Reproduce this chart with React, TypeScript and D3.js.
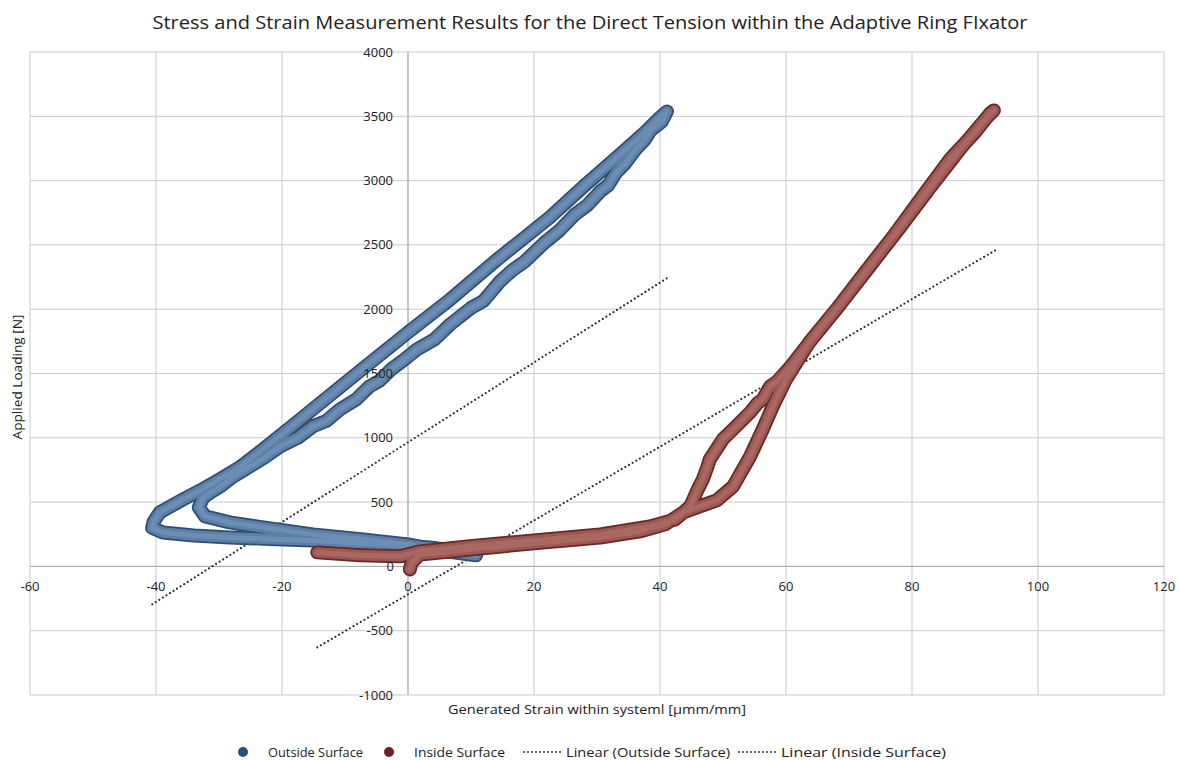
import * as d3 from 'd3';

// axis ticks
const xTicks = [-60, -40, -20, 0, 20, 40, 60, 80, 100, 120];
const yTicks = [-1000, -500, 0, 500, 1000, 1500, 2000, 2500, 3000, 3500, 4000];

// Outside Surface: traced along the loop (strain, load)
const outsideSurface: [number, number][] = [
  [10.6, 93], [7.0, 125], [3.5, 148], [-2.0, 165], [-7.1, 179], [-15.1, 202], [-22.0, 214],
  [-28.3, 225], [-34.0, 240], [-38.9, 264], [-40.6, 300], [-40.4, 345], [-39.4, 420],
  [-35.7, 521], [-33.0, 590], [-31.0, 645], [-26.7, 770], [-23.0, 910], [-17.1, 1143],
  [-8.1, 1501], [0.0, 1820], [6.7, 2076], [14.0, 2380], [22.5, 2714], [28.0, 2960],
  [33.7, 3204], [37.5, 3370], [40.0, 3491], [41.1, 3538],
  // unloading branch
  [40.3, 3460], [38.5, 3390], [37.6, 3320], [36.0, 3235], [34.4, 3130], [33.0, 3060],
  [31.8, 2965], [30.5, 2916], [28.5, 2810], [26.5, 2737], [24.0, 2610], [21.7, 2519],
  [18.5, 2370], [16.5, 2300], [14.6, 2216], [12.0, 2065], [10.0, 2010], [6.7, 1882],
  [4.2, 1765], [1.5, 1690], [-0.8, 1600], [-2.6, 1535], [-4.6, 1440], [-6.1, 1400],
  [-8.2, 1300], [-10.8, 1221], [-13.0, 1130], [-15.1, 1089], [-17.5, 1000], [-20.3, 933],
  [-23.0, 840], [-25.9, 754], [-28.0, 690], [-29.8, 622], [-31.5, 570], [-32.5, 537],
  [-33.2, 459], [-32.2, 389], [-28.3, 342], [-23.0, 303], [-15.1, 249], [-7.1, 210],
  [0.0, 171], [5.1, 124], [10.8, 86],
];

// Inside Surface
const insideSurface: [number, number][] = [
  [0.3, -23], [0.6, 31], [1.9, 93], [9.8, 132], [20.0, 179], [30.5, 225], [36.8, 272],
  [40.8, 327], [43.7, 420], [46.3, 467], [49.0, 513], [51.6, 622], [54.3, 855],
  [56.3, 1065], [57.9, 1244], [60.0, 1454], [63.8, 1750], [68.1, 2006], [72.5, 2286],
  [77.0, 2566], [81.3, 2854], [86.0, 3165], [90.0, 3375], [92.4, 3523], [93.0, 3546],
  // unloading branch
  [91.6, 3476], [87.6, 3243], [82.9, 2947], [78.1, 2636], [73.3, 2333], [68.6, 2037],
  [64.1, 1765], [60.6, 1547], [58.6, 1439], [57.5, 1400], [56.3, 1299], [55.5, 1270],
  [54.3, 1198], [52.5, 1110], [51.1, 1042], [50.0, 990], [47.9, 832], [47.5, 770],
  [46.8, 677], [46.0, 600], [44.8, 467], [42.4, 365], [38.4, 311], [30.5, 249],
  [20.0, 202], [9.8, 156], [1.9, 117], [-1.3, 78], [-7.6, 86], [-14.4, 109],
];

// linear trendlines: slope, intercept, x extent
const trendOutside = { slope: 31.04, intercept: 965, from: -40.6, to: 41.1 };
const trendInside = { slope: 28.69, intercept: -217, from: -14.4, to: 93.2 };

const legendItems = [
  { label: 'Outside Surface', kind: 'dot', color: '#2d4f7a', x: 243, w: 95 },
  { label: 'Inside Surface', kind: 'dot', color: '#6f1f1f', x: 389, w: 91 },
  { label: 'Linear (Outside Surface)', kind: 'line', color: '#333', x: 524, w: 164 },
  { label: 'Linear (Inside Surface)', kind: 'line', color: '#333', x: 739, w: 165 },
];

const W = 1180;
const H = 760;
const FONT = "'Open Sans', 'Noto Sans', sans-serif";

export default function App() {
  const x = d3.scaleLinear().domain([-60, 120]).range([30, 1164]);
  const y = d3.scaleLinear().domain([-1000, 4000]).range([695, 52]);
  const line = d3.line<[number, number]>().x(d => x(d[0])).y(d => y(d[1]));

  const trendPath = (t: typeof trendOutside) =>
    line([
      [t.from, t.slope * t.from + t.intercept],
      [t.to, t.slope * t.to + t.intercept],
    ]) as string;

  // each series is a dense run of markers: dark rim, lighter body
  const band = (data: [number, number][], edge: string, body: string, hi: string) => {
    const d = line(data) as string;
    return (
      <g fill="none" strokeLinecap="round" strokeLinejoin="round">
        <path d={d} stroke={edge} strokeWidth={14} />
        <path d={d} stroke={body} strokeWidth={10.5} />
        <path d={d} stroke={hi} strokeWidth={5} opacity={0.5} />
      </g>
    );
  };

  return (
    <svg
      width={W}
      height={H}
      style={{ position: 'absolute', left: 0, top: 0, background: '#fff', fontFamily: FONT }}
    >
      <rect width={W} height={H} fill="#fff" />
      <text x={590} y={29} textAnchor="middle" fontSize={19} fill="#222" textLength={875} lengthAdjust="spacingAndGlyphs">
        Stress and Strain Measurement Results for the Direct Tension within the Adaptive Ring FIxator
      </text>

      {/* grid */}
      <g stroke="#c9c9c9" strokeWidth={1}>
        {xTicks.map(t => (
          <line key={'gx' + t} x1={x(t)} x2={x(t)} y1={y(4000)} y2={y(-1000)} />
        ))}
        {yTicks.map(t => (
          <line key={'gy' + t} x1={x(-60)} x2={x(120)} y1={y(t)} y2={y(t)} />
        ))}
      </g>
      <line x1={x(0)} x2={x(0)} y1={y(4000)} y2={y(-1000)} stroke="#a9a9a9" />
      <line x1={x(-60)} x2={x(120)} y1={y(0)} y2={y(0)} stroke="#a9a9a9" />

      {/* trendlines */}
      <g fill="none" stroke="#2b2b2b" strokeWidth={2.2} strokeLinecap="round" strokeDasharray="0 4.2">
        <path d={trendPath(trendOutside)} />
        <path d={trendPath(trendInside)} />
      </g>

      {band(outsideSurface, '#2f4e72', '#5d7fa6', '#7c9cc1')}
      {band(insideSurface, '#6b2725', '#9c5853', '#b87772')}

      {/* tick labels */}
      <g fontSize={13} fill="#222">
        {yTicks.map(t => (
          <text key={'ly' + t} x={t === 0 ? x(0) - 14 : x(0) - 15} y={y(t)} dy="0.35em" textAnchor="end">
            {t}
          </text>
        ))}
        {xTicks.map(t => (
          <text key={'lx' + t} x={x(t)} y={y(0) + 25} textAnchor="middle">
            {t}
          </text>
        ))}
      </g>

      <text x={597} y={714} textAnchor="middle" fontSize={13.5} fill="#222" textLength={298} lengthAdjust="spacingAndGlyphs">
        Generated Strain within systeml [µmm/mm]
      </text>
      <text
        transform="translate(22,377) rotate(-90)"
        textAnchor="middle"
        fontSize={13.5}
        fill="#222"
        textLength={125}
        lengthAdjust="spacingAndGlyphs"
      >
        Applied Loading [N]
      </text>

      {/* legend */}
      <g fontSize={12.5} fill="#222">
        {legendItems.map(it => (
          <g key={it.label}>
            {it.kind === 'dot' ? (
              <circle cx={it.x} cy={752} r={5} fill={it.color} />
            ) : (
              <line
                x1={it.x}
                x2={it.x + 37}
                y1={752}
                y2={752}
                stroke={it.color}
                strokeWidth={2}
                strokeLinecap="round"
                strokeDasharray="0 4"
              />
            )}
            <text
              x={it.kind === 'dot' ? it.x + 25 : it.x + 42}
              y={756.5}
              textLength={it.w}
              lengthAdjust="spacingAndGlyphs"
            >
              {it.label}
            </text>
          </g>
        ))}
      </g>
    </svg>
  );
}
